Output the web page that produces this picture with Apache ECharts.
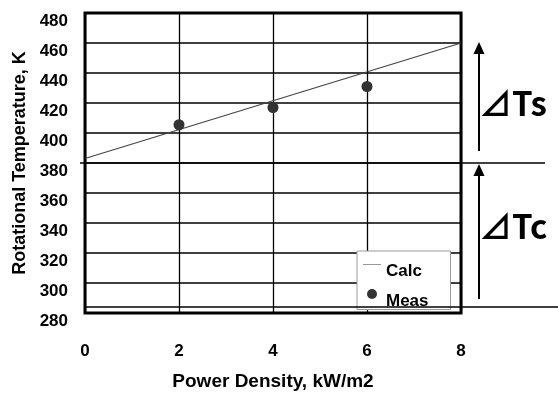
<!DOCTYPE html>
<html>
<head>
<meta charset="utf-8">
<script src="https://cdn.jsdelivr.net/npm/echarts@6/dist/echarts.min.js"></script>
<style>
  body { margin: 0; background: #fff; }
</style>
</head>
<body>
<div id="myChart" style="width:558px;height:396px"></div>
<script>
// values
var calcX = [0, 8]
var calcY = [383, 460]
var measX = [2, 4, 6]
var measY = [405.5, 417, 431]
var xTicks = [0, 2, 4, 6, 8]
var yTicks = [280, 300, 320, 340, 360, 380, 400, 420, 440, 460, 480]

// annotation levels (K)
var surfLevel = 380
var baseLevel = 284

var font = '"Liberation Sans", Arial, sans-serif'

var myChart = echarts.init(document.getElementById('myChart'))

var options = {
  animation: false,
  grid: {
    left: 85, right: 97, top: 13, bottom: 82,
    show: true, borderColor: '#000', borderWidth: 3, z: 3
  },
  xAxis: {
    type: 'value',
    min: xTicks[0], max: xTicks[xTicks.length - 1], interval: 2,
    name: 'Power Density, kW/m2',
    nameLocation: 'middle',
    nameGap: 59,
    nameTextStyle: { fontFamily: font, fontWeight: 'bold', fontSize: 19, color: '#000' },
    axisLine: { show: false },
    axisTick: { show: false },
    axisLabel: { margin: 30, fontFamily: font, fontWeight: 'bold', fontSize: 17, color: '#000' },
    splitLine: { lineStyle: { color: '#000', width: 1.3 } }
  },
  yAxis: {
    type: 'value',
    min: yTicks[0], max: yTicks[yTicks.length - 1], interval: 20,
    name: 'Rotational Temperature, K',
    nameLocation: 'middle',
    nameGap: 56,
    nameTextStyle: { fontFamily: font, fontWeight: 'bold', fontSize: 18, color: '#000' },
    axisLine: { show: false },
    axisTick: { show: false },
    axisLabel: {
      margin: 17, fontFamily: font, fontWeight: 'bold', fontSize: 17, color: '#000',
      verticalAlign: 'top'
    },
    splitLine: { lineStyle: { color: '#000', width: 1.6 } }
  },
  legend: {
    left: 357, top: 251,
    orient: 'vertical',
    backgroundColor: '#fff',
    borderColor: '#999',
    borderWidth: 1,
    borderRadius: 0,
    padding: [12, 22, 0, 6],
    itemGap: 9,
    itemWidth: 18,
    itemHeight: 10,
    formatter: '{t|{name}}',
    textStyle: {
      rich: {
        t: { fontFamily: font, fontWeight: 'bold', fontSize: 17, color: '#000', padding: [14, 0, 0, 0] }
      }
    },
    data: [
      { name: 'Calc', icon: 'path://M0,0H18V1H0Z', itemStyle: { color: '#999' } },
      { name: 'Meas', icon: 'circle' }
    ],
    z: 10
  },
  series: [{
    name: 'Calc',
    type: 'line',
    symbol: 'none',
    data: calcX.map(function (x, i) { return [x, calcY[i]] }),
    lineStyle: { color: '#444', width: 1.2 },
    itemStyle: { color: '#999' },
    z: 4
  }, {
    name: 'Meas',
    type: 'scatter',
    symbolSize: 11,
    data: measX.map(function (x, i) { return [x, measY[i]] }),
    itemStyle: { color: '#333', opacity: 1 },
    z: 5
  }]
}

myChart.setOption(options)

// right-hand annotation: reference lines, arrows and delta labels
var ySurf = myChart.convertToPixel({ gridIndex: 0 }, [0, surfLevel])[1]
var yBase = myChart.convertToPixel({ gridIndex: 0 }, [0, baseLevel])[1]
var yTop = myChart.convertToPixel({ gridIndex: 0 }, [0, 460.7])[1]
var ax = 479

function arrow (x, yTip, yEnd) {
  return [{
    type: 'line', z: 20,
    shape: { x1: x, y1: yTip + 8, x2: x, y2: yEnd },
    style: { stroke: '#000', lineWidth: 2 }
  }, {
    type: 'polygon', z: 20,
    shape: { points: [[x, yTip], [x - 5.5, yTip + 12], [x + 5.5, yTip + 12]] },
    style: { fill: '#000' }
  }]
}

var deltaFont = 'bold 33px "Noto Sans CJK JP", "DejaVu Sans", sans-serif'

myChart.setOption({
  graphic: [].concat(
    [{
      type: 'line', z: 20,
      shape: { x1: 80, y1: ySurf, x2: 545, y2: ySurf },
      style: { stroke: '#000', lineWidth: 1.6 }
    }, {
      type: 'line', z: 20,
      shape: { x1: 85, y1: yBase, x2: 558, y2: yBase },
      style: { stroke: '#000', lineWidth: 1.3 }
    }],
    arrow(ax, yTop, ySurf - 12),
    arrow(ax, ySurf + 1, yBase - 8),
    [{
      type: 'text', z: 20, left: 479, top: 87,
      style: { text: '⊿Ts', font: deltaFont, fill: '#000' }
    }, {
      type: 'text', z: 20, left: 479, top: 210,
      style: { text: '⊿Tc', font: deltaFont, fill: '#000' }
    }]
  )
})
</script>
</body>
</html>
